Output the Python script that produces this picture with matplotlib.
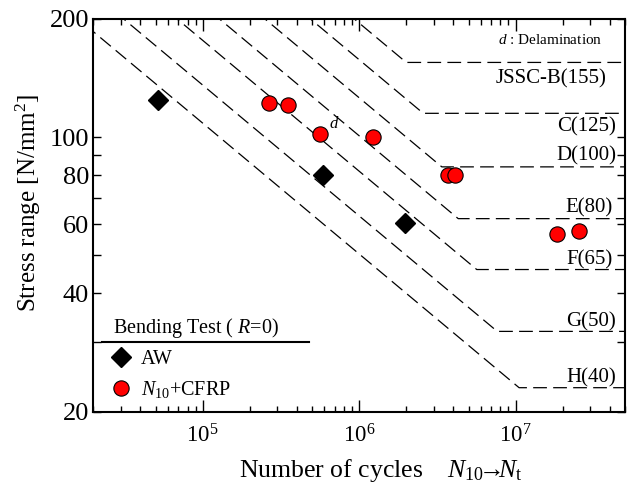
import matplotlib
matplotlib.use('Agg')
import matplotlib.pyplot as plt
import matplotlib.transforms as mtransforms
from matplotlib.ticker import FixedLocator, NullFormatter, LogLocator, FuncFormatter

plt.rcParams['font.family'] = ['Liberation Serif', 'DejaVu Serif']
plt.rcParams['mathtext.fontset'] = 'custom'
plt.rcParams['mathtext.rm'] = 'Liberation Serif'
plt.rcParams['mathtext.it'] = 'Liberation Serif:italic'

# JSSC fatigue design classes: strength at 2e6 cycles and cut-off limit
classes = ['JSSC-B(155)', 'C(125)', 'D(100)', 'E(80)', 'F(65)', 'G(50)', 'H(40)']
strength_2e6 = [155, 125, 100, 80, 65, 50, 40]
cutoff = [155, 115, 84, 62, 46, 32, 23]

# test results (bending, R=0)
aw_N = [5.2e4, 5.9e5, 1.97e6]
aw_S = [124.6, 80.3, 60.6]
cfrp_N = [2.65e5, 3.53e5, 5.61e5, 1.22e6, 3.72e6, 4.08e6, 1.83e7, 2.55e7]
cfrp_S = [122.2, 121.0, 102.1, 100.0, 80.3, 79.9, 56.6, 57.7]
delam_idx = 2  # specimen marked "d"

# where the class names sit (x in axes fraction, y in stress)
label_x = [0.966, 0.983, 0.984, 0.977, 0.976, 0.983, 0.983]
label_y = [141, 106.5, 89.7, 66, 48.6, 33.9, 24.3]

fig = plt.figure(figsize=(6.31, 4.83), dpi=100)
ax = fig.add_axes([0.1479, 0.148, 0.8426, 0.8127])

# S-N design curves, slope -1/3 down to the cut-off, then horizontal
for fat, cut in zip(strength_2e6, cutoff):
    n_corner = 2e6 * (fat / cut) ** 3
    N = [1e4, n_corner, 1e8]
    S = [fat * (2e6 / 1e4) ** (1 / 3), cut, cut]
    ax.plot(N, S, color='k', lw=0.9, dashes=(11, 5), zorder=1)

ax.plot(aw_N, aw_S, 'D', ms=10, mfc='k', mec='k', ls='none', label='AW', zorder=3)
ax.plot(cfrp_N, cfrp_S, 'o', ms=11, mfc='red', mec='k', mew=0.8, ls='none',
        label='$N_{10}$+CFRP', zorder=3)
ax.annotate('d', xy=(cfrp_N[delam_idx], cfrp_S[delam_idx]), xytext=(10, 7),
            textcoords='offset points', fontsize=12, style='italic',
            ha='center', va='center')

trans = mtransforms.blended_transform_factory(ax.transAxes, ax.transData)
for name, lx, ly in zip(classes, label_x, label_y):
    ax.text(lx, ly, name, transform=trans, ha='right', va='center', fontsize=15)
ax.text(0.957, 176.8, '$d$ : Delamination', transform=trans, ha='right',
        va='center', fontsize=11)

ax.set_xscale('log')
ax.set_yscale('log')
ax.set_xlim(2e4, 5e7)
ax.set_ylim(20, 200)

ax.xaxis.set_major_locator(LogLocator(base=10))
ax.xaxis.set_minor_locator(LogLocator(base=10, subs=range(2, 10)))
ax.xaxis.set_minor_formatter(NullFormatter())
ax.yaxis.set_major_locator(FixedLocator([20, 40, 60, 80, 100, 200]))
ax.yaxis.set_major_formatter(FuncFormatter(lambda v, p: f'{v:g}'))
ax.yaxis.set_minor_locator(FixedLocator([30, 50, 70, 90]))
ax.yaxis.set_minor_formatter(NullFormatter())

ax.tick_params(which='both', direction='in', top=True, right=True, width=1.0)
ax.tick_params(axis='x', which='major', length=8.5, labelsize=16.5, pad=9)
ax.tick_params(axis='x', which='minor', length=4)
ax.tick_params(axis='y', which='both', length=6, labelsize=19, pad=3)
for sp in ax.spines.values():
    sp.set_linewidth(1.5)

ax.set_xlabel('Number of cycles    $N_{10}\\!\\!\\!\\rightarrow\\!\\!\\!N_{\\mathrm{t}}$',
              fontsize=18.5)
ax.xaxis.label.set_va('center')
ax.xaxis.set_label_coords(0.540, -0.149)
ax.set_ylabel('Stress range [N/mm$^2$]', fontsize=18)
ax.yaxis.label.set_va('center')
ax.yaxis.set_label_coords(-0.1228, 0.530)

ax.legend(title='Bending Test ( $R$=0)', loc='lower left',
          bbox_to_anchor=(0.037, 0.029), frameon=False, borderaxespad=0,
          borderpad=0, handlelength=0.8, handletextpad=0.6, labelspacing=0.5,
          fontsize=14.5, title_fontsize=14.5, alignment='left')
ax.axhline(30, xmin=0.016, xmax=0.406, color='k', lw=1.5)

fig.savefig('out.png', dpi=100)
